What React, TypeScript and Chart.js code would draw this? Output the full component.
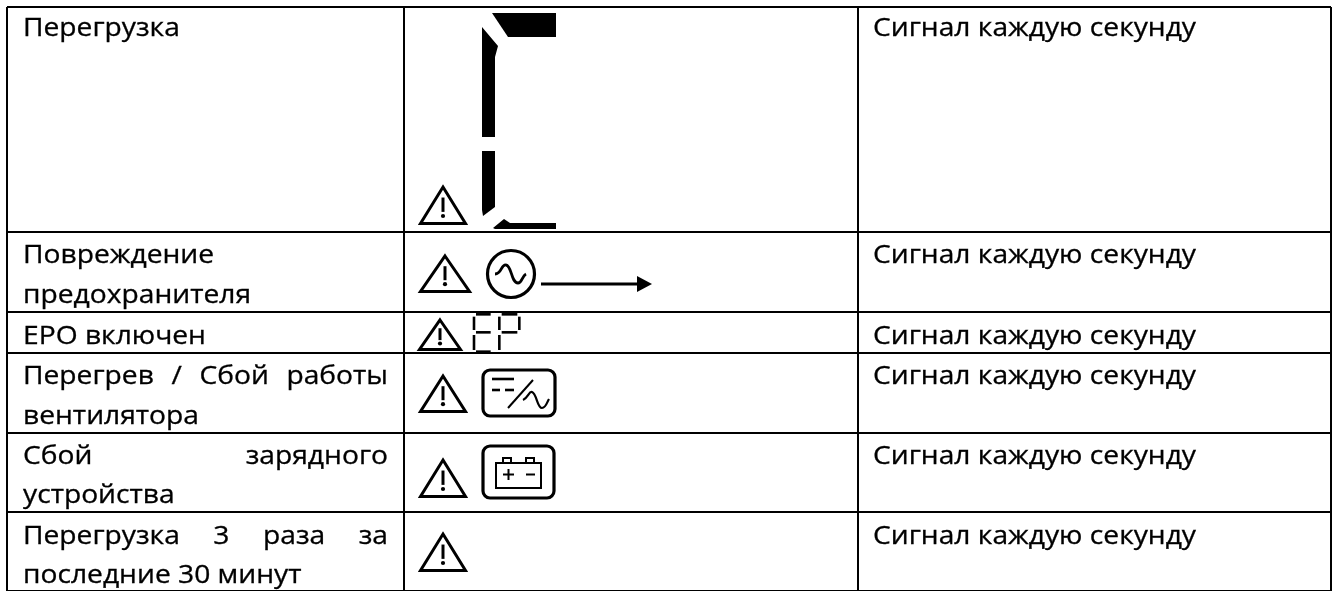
import React, { useEffect, useRef } from "react";
import { Chart, registerables } from "chart.js";

Chart.register(...registerables);

const columnEdges = [7, 404, 858, 1331];
const rowEdges = [7, 232, 312, 353, 433, 512, 591];

const faultLines: string[][] = [
  ["Перегрузка"],
  ["Повреждение", "предохранителя"],
  ["ЕРО включен"],
  ["Перегрев / Сбой работы", "вентилятора"],
  ["Сбой зарядного", "устройства"],
  ["Перегрузка 3 раза за", "последние 30 минут"],
];
const justifiedLines = ["Перегрев / Сбой работы", "Сбой зарядного", "Перегрузка 3 раза за"];
const faultBaselines: number[][] = [[36], [263, 303], [344], [384, 424], [464, 503], [544, 583]];
const signalText = "Сигнал каждую секунду";
const signalBaselines = [36, 263, 344, 384, 464, 544];
const triangles = [
  [443, 184, 24, 41],
  [445, 253, 26, 40],
  [440, 317, 22, 34],
  [443, 373, 24, 40],
  [443, 457, 24, 41],
  [443, 531, 24, 41],
];
const FONT = '25px "Open Sans"';
const SIGNAL_WIDTH = 323;

const tablePlugin = {
  id: "tablePlugin",
  afterDraw(chart: any) {
    const ctx: CanvasRenderingContext2D = chart.ctx;
    const X = (v: number) => chart.scales.x.getPixelForValue(v);
    const Y = (v: number) => chart.scales.y.getPixelForValue(v);
    ctx.save();
    ctx.fillStyle = "#000";
    ctx.strokeStyle = "#000";
    ctx.font = FONT;
    ctx.textBaseline = "alphabetic";
    ctx.textAlign = "left";
    const sc = SIGNAL_WIDTH / ctx.measureText(signalText).width;
    const text = (s: string, x: number, y: number) => {
      ctx.save();
      ctx.translate(X(x), Y(y));
      ctx.scale(sc, 1);
      ctx.lineWidth = 0.3;
      ctx.fillText(s, 0, 0);
      ctx.strokeText(s, 0, 0);
      ctx.restore();
    };
    const w = (s: string) => ctx.measureText(s).width * sc;

    const textLeft = 23;
    const textRight = 388;
    faultLines.forEach((lines, r) => {
      lines.forEach((line, l) => {
        const y = faultBaselines[r][l];
        if (justifiedLines.includes(line)) {
          const words = line.split(" ");
          const total = words.reduce((s, word) => s + w(word), 0);
          const gap = (textRight - textLeft - total) / (words.length - 1);
          let x = textLeft;
          words.forEach((word) => {
            text(word, x, y);
            x += w(word) + gap;
          });
        } else {
          text(line, textLeft, y);
        }
      });
    });
    signalBaselines.forEach((b) => text(signalText, 873, b));

    const poly = (pts: number[][]) => {
      ctx.beginPath();
      pts.forEach(([x, y], i) => (i ? ctx.lineTo(X(x), Y(y)) : ctx.moveTo(X(x), Y(y))));
      ctx.closePath();
      ctx.fill();
    };
    const line = (pts: number[][], lw: number) => {
      ctx.lineWidth = lw;
      ctx.beginPath();
      pts.forEach(([x, y], i) => (i ? ctx.lineTo(X(x), Y(y)) : ctx.moveTo(X(x), Y(y))));
      ctx.stroke();
    };

    ctx.lineJoin = "miter";
    triangles.forEach(([cx, top, hw, h]) => {
      ctx.lineWidth = 3;
      ctx.beginPath();
      ctx.moveTo(X(cx), Y(top + 3));
      ctx.lineTo(X(cx + hw - 1.5), Y(top + h - 1.5));
      ctx.lineTo(X(cx - hw + 1.5), Y(top + h - 1.5));
      ctx.closePath();
      ctx.stroke();
      ctx.lineWidth = 3;
      ctx.beginPath();
      ctx.moveTo(X(cx), Y(top + h * 0.33));
      ctx.lineTo(X(cx), Y(top + h * 0.68));
      ctx.stroke();
      ctx.beginPath();
      ctx.arc(X(cx), Y(top + h * 0.78), 2.1, 0, Math.PI * 2);
      ctx.fill();
    });

    // Row 1: large seven-segment fragment
    poly([[492, 13], [556, 13], [556, 37], [508, 37]]);
    poly([[482, 27], [498, 46], [495, 57], [495, 137], [482, 137]]);
    poly([[482, 151], [495, 151], [495, 207], [483, 216], [482, 210]]);
    poly([[493, 228], [504, 219], [510, 223], [556, 223], [556, 229], [495, 229]]);

    // Row 2: AC circle and arrow
    ctx.lineWidth = 3.2;
    ctx.beginPath();
    ctx.arc(X(511), Y(274), 23.5, 0, Math.PI * 2);
    ctx.stroke();
    ctx.lineWidth = 2.8;
    ctx.beginPath();
    ctx.moveTo(X(495), Y(274));
    ctx.bezierCurveTo(X(502), Y(274), X(501), Y(264), X(506), Y(265));
    ctx.bezierCurveTo(X(512), Y(266), X(511), Y(283), X(518), Y(283));
    ctx.bezierCurveTo(X(522), Y(283), X(522), Y(276), X(526), Y(274));
    ctx.stroke();
    line([[541, 284], [638, 284]], 3);
    poly([[637, 276], [652, 284], [637, 292]]);

    // Row 3: EP segments
    const sx = (v: number) => 400 + v / 3;
    const sy = (v: number) => 235 + v / 3;
    const seg = (a: number, b: number, c: number, d: number) =>
      line([[sx(a), sy(b)], [sx(c), sy(d)]], 2.6);
    seg(228, 238, 272, 238); seg(222, 245, 222, 285); seg(228, 292, 272, 292);
    seg(222, 300, 222, 345); seg(228, 350, 272, 350);
    seg(305, 238, 352, 238); seg(298, 245, 298, 285); seg(358, 245, 358, 285);
    seg(305, 292, 352, 292); seg(298, 300, 298, 345);

    const box = (x: number, y: number, bw: number, h: number) => {
      ctx.lineWidth = 3.2;
      ctx.beginPath();
      ctx.roundRect(X(x), Y(y), bw, h, 7);
      ctx.stroke();
    };

    // Row 4: converter box
    box(483, 370, 72, 46);
    line([[492, 379], [514, 379]], 2.6);
    line([[492, 390], [500, 390]], 2.6);
    line([[505, 390], [514, 390]], 2.6);
    line([[508, 408], [533, 380]], 2);
    ctx.lineWidth = 2.2;
    ctx.beginPath();
    ctx.moveTo(X(523), Y(400));
    ctx.bezierCurveTo(X(528), Y(398), X(529), Y(391), X(532), Y(392));
    ctx.bezierCurveTo(X(537), Y(394), X(537), Y(408), X(542), Y(408));
    ctx.bezierCurveTo(X(546), Y(408), X(547), Y(402), X(549), Y(399));
    ctx.stroke();

    // Row 5: battery box
    box(483, 446, 71, 52);
    ctx.lineWidth = 2;
    ctx.strokeRect(X(496), Y(463), 45, 25);
    ctx.strokeRect(X(503), Y(458), 8, 5);
    ctx.strokeRect(X(526), Y(458), 8, 5);
    line([[503, 474.5], [514, 474.5]], 2);
    line([[508.5, 469], [508.5, 480]], 2);
    line([[526, 474.5], [535, 474.5]], 2);
    ctx.restore();
  },
};

export default function App() {
  const ref = useRef<HTMLCanvasElement>(null);
  useEffect(() => {
    document.body.style.margin = "0";
    const axis = (edges: number[], reverse: boolean) => ({
      type: "linear" as const,
      min: edges[0],
      max: edges[edges.length - 1],
      reverse,
      afterBuildTicks: (s: any) => {
        s.ticks = edges.map((value) => ({ value }));
      },
      ticks: { display: false },
      border: { display: false },
      grid: { color: "#000", lineWidth: 2, drawTicks: false },
    });
    const chart = new Chart(ref.current!, {
      type: "scatter",
      data: { datasets: [] },
      options: {
        animation: false,
        responsive: false,
        layout: { padding: { left: 7, top: 7, right: 2, bottom: 0 } },
        plugins: { legend: { display: false }, tooltip: { enabled: false } },
        scales: { x: axis(columnEdges, false), y: axis(rowEdges, true) },
      },
      plugins: [tablePlugin],
    });
    return () => chart.destroy();
  }, []);
  return <canvas ref={ref} width={1333} height={591} style={{ display: "block" }} />;
}
